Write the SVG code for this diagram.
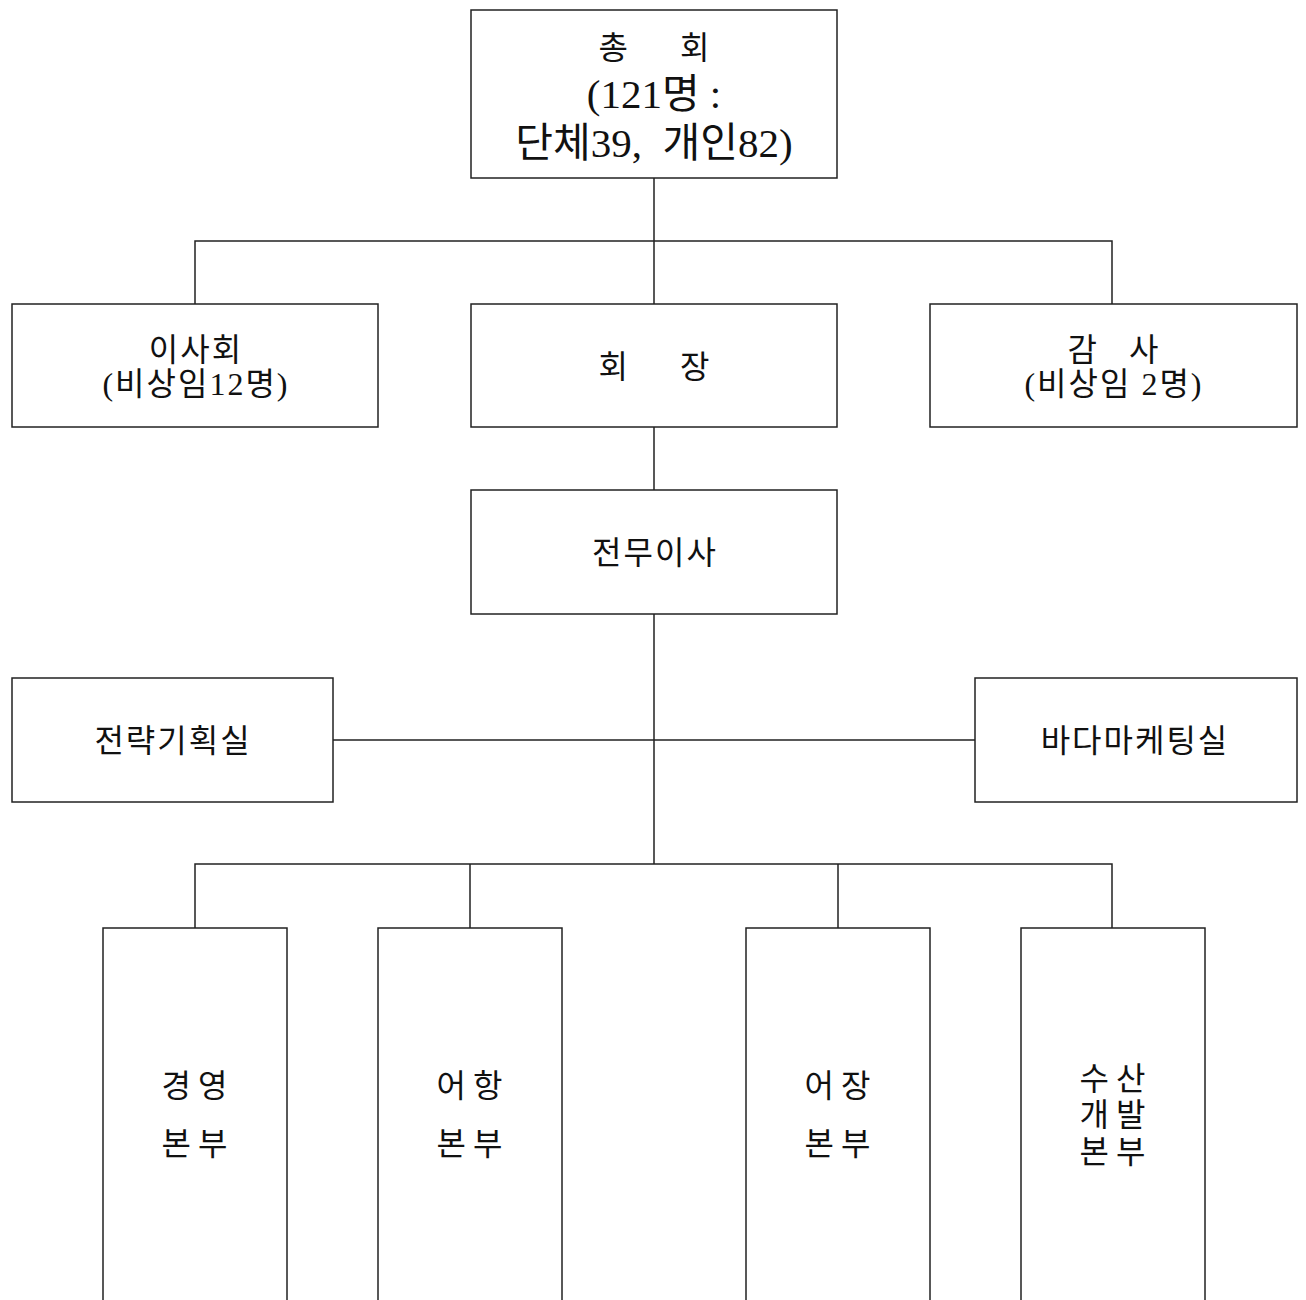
<svg xmlns="http://www.w3.org/2000/svg" width="1306" height="1300" viewBox="0 0 1306 1300">
<style>
.box{fill:#fff;stroke:#222;stroke-width:1.5}
.ln{stroke:#222;stroke-width:1.5;fill:none}
text{font-family:"Liberation Serif","Noto Sans CJK KR",serif;fill:#111;text-anchor:middle}
.t{font-size:32px;letter-spacing:2px}
.v{font-size:32px;letter-spacing:7px}
.b{font-size:41px}
</style>
<rect width="1306" height="1300" fill="#fff"/>
<g id="connectors">
<path class="ln" d="M654,178V304M195,304V241H1112V304M654,427V490M654,614V864M333,740H975M195,928V864H1112V928M470,864V928M838,864V928"/>
</g>
<g id="n-chonghoe">
<rect class="box" x="471" y="10" width="366" height="168"/>
<text class="t" x="655" y="59" xml:space="preserve">총     회</text>
<text class="b" x="654" y="108">(121명 :</text>
<text class="b" x="654" y="157" xml:space="preserve">단체39,  개인82)</text>
</g>
<g id="n-isahoe">
<rect class="box" x="12" y="304" width="366" height="123"/>
<text class="t" x="196" y="361">이사회</text>
<text class="t" x="196" y="395">(비상임12명)</text>
</g>
<g id="n-hoejang">
<rect class="box" x="471" y="304" width="366" height="123"/>
<text class="t" x="655" y="378" xml:space="preserve">회     장</text>
</g>
<g id="n-gamsa">
<rect class="box" x="930" y="304" width="367" height="123"/>
<text class="t" x="1114" y="361" xml:space="preserve">감   사</text>
<text class="t" x="1114" y="395" xml:space="preserve">(비상임 2명)</text>
</g>
<g id="n-jeonmu">
<rect class="box" x="471" y="490" width="366" height="124"/>
<text class="t" x="655" y="564">전무이사</text>
</g>
<g id="n-jeollyak">
<rect class="box" x="12" y="678" width="321" height="124"/>
<text class="t" x="173" y="752">전략기획실</text>
</g>
<g id="n-bada">
<rect class="box" x="975" y="678" width="322" height="124"/>
<text class="t" x="1135" y="752">바다마케팅실</text>
</g>
<g id="n-gyeongyeong">
<rect class="box" x="103" y="928" width="184" height="400"/>
<text class="v" x="198" y="1097">경영</text>
<text class="v" x="198" y="1155">본부</text>
</g>
<g id="n-eohang">
<rect class="box" x="378" y="928" width="184" height="400"/>
<text class="v" x="473" y="1097">어항</text>
<text class="v" x="473" y="1155">본부</text>
</g>
<g id="n-eojang">
<rect class="box" x="746" y="928" width="184" height="400"/>
<text class="v" x="841" y="1097">어장</text>
<text class="v" x="841" y="1155">본부</text>
</g>
<g id="n-susan">
<rect class="box" x="1021" y="928" width="184" height="400"/>
<text class="v" x="1116" y="1090">수산</text>
<text class="v" x="1116" y="1126">개발</text>
<text class="v" x="1116" y="1163">본부</text>
</g>
</svg>
